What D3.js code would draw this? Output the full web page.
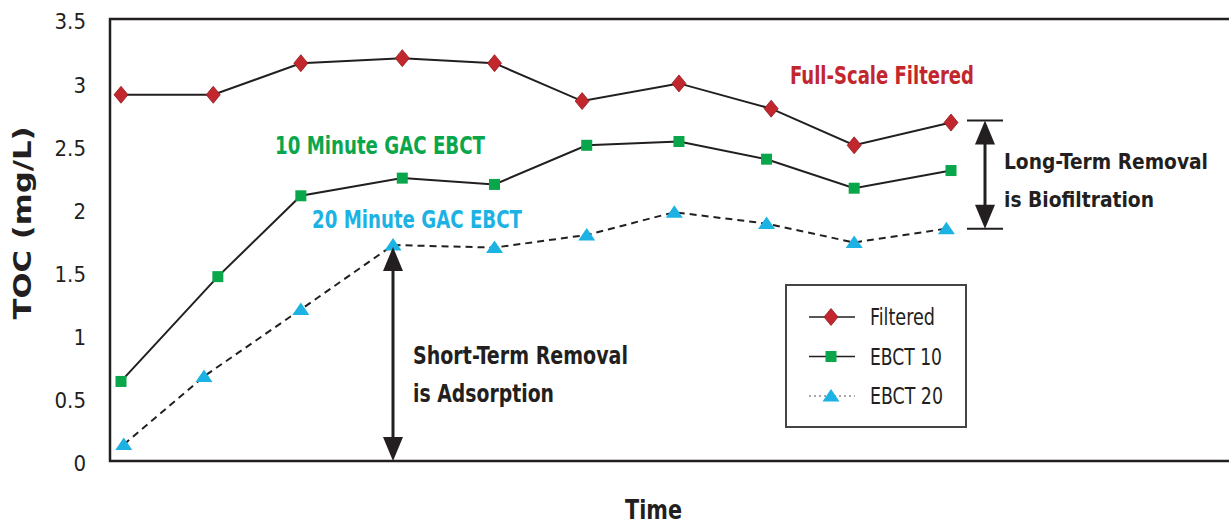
<!DOCTYPE html>
<html>
<head>
<meta charset="utf-8">
<script src="https://cdn.jsdelivr.net/npm/d3@7"></script>
<style>
    body { margin: 0; background: #fff; }
    svg { display: block; }
    text { font-family: "Liberation Sans Narrow", "DejaVu Sans Condensed", "Roboto", sans-serif; }
</style>
</head>
<body>
<svg id="chart" width="1229" height="525"></svg>
<script>
// TOC (mg/L) readings over time
var timeFiltered = [0, 1, 1.95, 3.05, 4.05, 5, 6.05, 7.05, 7.95, 9];
var filtered = [2.90, 2.90, 3.15, 3.19, 3.15, 2.85, 2.99, 2.79, 2.50, 2.68];

var timeEbct10 = [0, 1.05, 1.95, 3.05, 4.05, 5.05, 6.05, 7, 7.95, 9];
var ebct10 = [0.63, 1.46, 2.10, 2.24, 2.19, 2.50, 2.53, 2.39, 2.16, 2.30];

var timeEbct20 = [0.03, 0.9, 1.95, 2.95, 4.05, 5.05, 6, 7, 7.95, 8.95];
var ebct20 = [0.13, 0.67, 1.20, 1.71, 1.69, 1.79, 1.97, 1.88, 1.73, 1.84];

var yTicks = [0, 0.5, 1, 1.5, 2, 2.5, 3, 3.5];
var legendNames = ["Filtered", "EBCT 10", "EBCT 20"];

var red = "#c1272d", green = "#0aa64b", cyan = "#1db2e4", ink = "#231f20";

var svg = d3.select("#chart");
var width = 1229, height = 525;
var margin = {top: 19, left: 110, bottom: 64};

var xScale = d3.scaleLinear().domain([0, 9]).range([121, 951]);
var yScale = d3.scaleLinear().domain([0, 3.5]).range([height - margin.bottom, margin.top]);

// plot frame (right side runs off the picture)
svg.append("path")
    .attr("d", "M" + (width + 5) + "," + yScale(3.5) + "H" + margin.left + "V" + yScale(0) + "H" + (width + 5))
    .attr("fill", "none")
    .attr("stroke", ink)
    .attr("stroke-width", 2.5);

// y axis, labels only
var yAxis = d3.axisLeft(yScale)
    .tickValues(yTicks)
    .tickSize(0)
    .tickPadding(0)
    .tickFormat(function(d){ return String(d); });

var gy = svg.append("g")
    .attr("transform", "translate(86,0)")
    .call(yAxis);
gy.select(".domain").remove();
gy.selectAll("text")
    .attr("dy", "0.45em")
    .style("font-size", "22px")
    .style("font-family", "\"Liberation Sans Narrow\", \"DejaVu Sans Condensed\", sans-serif")
    .attr("fill", ink);

function label(txt, x, y, size, weight, color, len, rotate) {
    var t = svg.append("text")
        .attr("x", x)
        .attr("y", y)
        .attr("fill", color)
        .style("font-size", size + "px")
        .style("font-weight", weight)
        .text(txt);
    if (len) {
        t.attr("textLength", len).attr("lengthAdjust", "spacingAndGlyphs");
    }
    if (rotate) {
        t.attr("transform", "rotate(-90," + x + "," + y + ")").attr("text-anchor", "middle");
    }
    return t;
}

// axis titles
label("TOC (mg/L)", 31, 223, 25, "bold", ink, 193, true)
    .style("font-family", "\"DejaVu Sans\", Verdana, sans-serif");
label("Time", 625, 519, 27, "bold", ink, 57);

// series
var series = [
    {t: timeFiltered, v: filtered, color: red, shape: "diamond", dash: null},
    {t: timeEbct10, v: ebct10, color: green, shape: "square", dash: null},
    {t: timeEbct20, v: ebct20, color: cyan, shape: "triangle", dash: "7,5"}
];

var line = d3.line()
    .x(function(d){ return xScale(d[0]); })
    .y(function(d){ return yScale(d[1]); });

function marker(g, shape, color, x, y) {
    if (shape == "diamond") {
        g.append("path")
            .attr("d", "M" + x + "," + (y - 8.5) + "L" + (x + 7) + "," + y + "L" + x + "," + (y + 8.5) + "L" + (x - 7) + "," + y + "Z")
            .attr("fill", color)
            .attr("stroke", "#8e1b1f")
            .attr("stroke-width", 0.8);
    } else if (shape == "square") {
        g.append("rect")
            .attr("x", x - 5.5).attr("y", y - 5.5)
            .attr("width", 11).attr("height", 11)
            .attr("fill", color);
    } else {
        g.append("path")
            .attr("d", "M" + x + "," + (y - 7) + "L" + (x + 8.5) + "," + (y + 5.5) + "L" + (x - 8.5) + "," + (y + 5.5) + "Z")
            .attr("fill", color);
    }
}

series.forEach(function(s) {
    var pts = s.t.map(function(t, i){ return [t, s.v[i]]; });
    svg.append("path")
        .datum(pts)
        .attr("d", line)
        .attr("fill", "none")
        .attr("stroke", ink)
        .attr("stroke-width", 2)
        .attr("stroke-dasharray", s.dash);
    var g = svg.append("g");
    pts.forEach(function(p) {
        marker(g, s.shape, s.color, xScale(p[0]), yScale(p[1]));
    });
});

// series labels
label("Full-Scale Filtered", 790, 84, 25, "bold", red, 184);
label("10 Minute GAC EBCT", 275, 154, 25, "bold", green, 210);
label("20 Minute GAC EBCT", 312, 228, 25, "bold", cyan, 210);

// double arrows
function doubleArrow(x, y1, y2, caps) {
    var head = 24, half = 10;
    svg.append("line")
        .attr("x1", x).attr("x2", x)
        .attr("y1", y1 + head - 2).attr("y2", y2 - head + 2)
        .attr("stroke", ink).attr("stroke-width", 3);
    svg.append("path")
        .attr("d", "M" + x + "," + y1 + "L" + (x + half) + "," + (y1 + head) + "L" + (x - half) + "," + (y1 + head) + "Z")
        .attr("fill", ink);
    svg.append("path")
        .attr("d", "M" + x + "," + y2 + "L" + (x + half) + "," + (y2 - head) + "L" + (x - half) + "," + (y2 - head) + "Z")
        .attr("fill", ink);
    if (caps) {
        [y1, y2].forEach(function(y) {
            svg.append("line")
                .attr("x1", x - 18).attr("x2", x + 18)
                .attr("y1", y).attr("y2", y)
                .attr("stroke", ink).attr("stroke-width", 2);
        });
    }
}

doubleArrow(393, yScale(ebct20[3]) + 2, yScale(0), false);
doubleArrow(985, yScale(filtered[9]) - 2, yScale(ebct20[9]), true);

label("Short-Term Removal", 413, 364, 25, "bold", ink, 215);
label("is Adsorption", 413, 402, 25, "bold", ink, 141);
label("Long-Term Removal", 1004, 169, 22, "bold", ink, 204);
label("is Biofiltration", 1004, 207, 22, "bold", ink, 150);

// legend
var legend = svg.append("g");
legend.append("rect")
    .attr("x", 786).attr("y", 285)
    .attr("width", 180).attr("height", 142)
    .attr("fill", "#fff")
    .attr("stroke", "#444")
    .attr("stroke-width", 2);

var legendWidths = [65, 72, 73];
series.forEach(function(s, i) {
    var ly = 317 + i * 39.5;
    legend.append("line")
        .attr("x1", 809).attr("x2", 855)
        .attr("y1", ly).attr("y2", ly)
        .attr("stroke", s.dash ? "#555" : ink)
        .attr("stroke-width", s.dash ? 1.2 : 1.6)
        .attr("stroke-dasharray", s.dash ? "2,3" : null);
    marker(legend, s.shape, s.color, 831, ly);
    label(legendNames[i], 870, ly + 8, 23, "normal", ink, legendWidths[i]);
});
</script>
</body>
</html>
